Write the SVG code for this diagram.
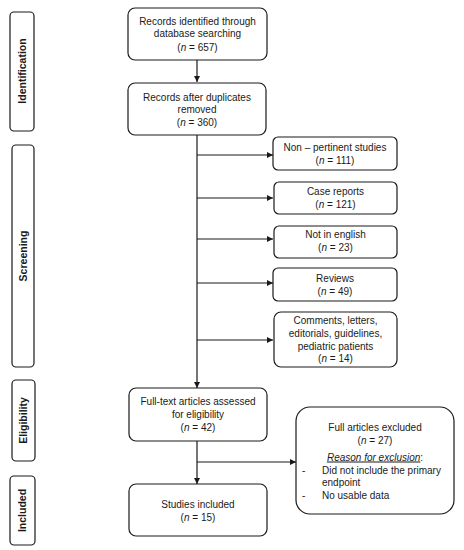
<svg xmlns="http://www.w3.org/2000/svg" width="464" height="550" viewBox="0 0 464 550">
<defs>
<marker id="arr" viewBox="0 0 10 10" refX="10" refY="5" markerWidth="6" markerHeight="6" markerUnits="userSpaceOnUse" orient="auto">
<path d="M0,0 L10,5 L0,10 z" fill="#1a1a1a"/>
</marker>
<style>
.box{fill:#fff;stroke:#1a1a1a;stroke-width:1.2}
.t{font-family:"Liberation Sans",Arial,sans-serif;font-size:10px;fill:#1a1a1a;text-anchor:middle}
.l{text-anchor:start}
.s{font-family:"Liberation Sans",Arial,sans-serif;font-size:10.5px;font-weight:bold;fill:#1a1a1a;text-anchor:middle}
.c{fill:none;stroke:#1a1a1a;stroke-width:1.2}
</style>
</defs>
<rect width="464" height="550" fill="#fff"/>
<g id="stage-identification"><rect class="box" x="10" y="12" width="24" height="119" rx="4"/><text class="s" transform="translate(25.8,71) rotate(-90)">Identification</text></g>
<g id="stage-screening"><rect class="box" x="12" y="145" width="22" height="222" rx="4"/><text class="s" transform="translate(26.8,256) rotate(-90)">Screening</text></g>
<g id="stage-eligibility"><rect class="box" x="12" y="380" width="23" height="81" rx="4"/><text class="s" transform="translate(27.3,420.5) rotate(-90)">Eligibility</text></g>
<g id="stage-included"><rect class="box" x="10" y="476" width="25" height="69" rx="4"/><text class="s" transform="translate(26.3,510.5) rotate(-90)">Included</text></g>

<g id="connectors">
<line class="c" x1="197" y1="60" x2="197" y2="82" marker-end="url(#arr)"/>
<line class="c" x1="197" y1="135" x2="197" y2="388" marker-end="url(#arr)"/>
<line class="c" x1="197" y1="155" x2="273" y2="155" marker-end="url(#arr)"/>
<line class="c" x1="197" y1="198" x2="273" y2="198" marker-end="url(#arr)"/>
<line class="c" x1="197" y1="239" x2="273" y2="239" marker-end="url(#arr)"/>
<line class="c" x1="197" y1="283" x2="273" y2="283" marker-end="url(#arr)"/>
<line class="c" x1="197" y1="340" x2="273" y2="340" marker-end="url(#arr)"/>
<line class="c" x1="197" y1="441" x2="197" y2="484" marker-end="url(#arr)"/>
<line class="c" x1="197" y1="462" x2="296" y2="462" marker-end="url(#arr)"/>
</g>

<g id="records-identified"><rect class="box" x="128" y="8" width="139" height="52" rx="7"/>
<text class="t" x="197.5" y="24.5">Records identified through</text>
<text class="t" x="197.5" y="37">database searching</text>
<text class="t" x="197.5" y="50.5">(<tspan font-style="italic">n</tspan> = 657)</text></g>

<g id="records-after-duplicates"><rect class="box" x="128" y="83" width="138" height="52" rx="7"/>
<text class="t" x="197" y="100.5">Records after duplicates</text>
<text class="t" x="197" y="113">removed</text>
<text class="t" x="197" y="126">(<tspan font-style="italic">n</tspan> = 360)</text></g>

<g id="non-pertinent"><rect class="box" x="273" y="137" width="124" height="33" rx="5"/>
<text class="t" x="335" y="151">Non – pertinent studies</text>
<text class="t" x="335" y="164">(<tspan font-style="italic">n</tspan> = 111)</text></g>

<g id="case-reports"><rect class="box" x="274" y="182" width="123" height="32" rx="5"/>
<text class="t" x="335.5" y="195">Case reports</text>
<text class="t" x="335.5" y="207.5">(<tspan font-style="italic">n</tspan> = 121)</text></g>

<g id="not-in-english"><rect class="box" x="274" y="226" width="123" height="32" rx="5"/>
<text class="t" x="335.5" y="238">Not in english</text>
<text class="t" x="335.5" y="250.5">(<tspan font-style="italic">n</tspan> = 23)</text></g>

<g id="reviews"><rect class="box" x="273" y="268" width="124" height="33" rx="5"/>
<text class="t" x="335" y="282">Reviews</text>
<text class="t" x="335" y="295">(<tspan font-style="italic">n</tspan> = 49)</text></g>

<g id="comments"><rect class="box" x="274" y="312" width="123" height="55" rx="7"/>
<text class="t" x="335.5" y="324">Comments, letters,</text>
<text class="t" x="335.5" y="337">editorials, guidelines,</text>
<text class="t" x="335.5" y="349.5">pediatric patients</text>
<text class="t" x="335.5" y="362">(<tspan font-style="italic">n</tspan> = 14)</text></g>

<g id="full-text-assessed"><rect class="box" x="129" y="388" width="138" height="53" rx="7"/>
<text class="t" x="198" y="405">Full-text articles assessed</text>
<text class="t" x="198" y="418">for eligibility</text>
<text class="t" x="198" y="431">(<tspan font-style="italic">n</tspan> = 42)</text></g>

<g id="studies-included"><rect class="box" x="129" y="484" width="138" height="52" rx="7"/>
<text class="t" x="198" y="508">Studies included</text>
<text class="t" x="198" y="521">(<tspan font-style="italic">n</tspan> = 15)</text></g>

<g id="full-excluded"><rect class="box" x="296" y="407" width="158" height="107" rx="14"/>
<text class="t" x="375" y="430.5">Full articles excluded</text>
<text class="t" x="375" y="443.5">(<tspan font-style="italic">n</tspan> = 27)</text>
<text class="t" x="375" y="460.5"><tspan font-style="italic" text-decoration="underline">Reason for exclusion</tspan>:</text>
<text class="t l" x="302" y="473.5">-</text>
<text class="t l" x="322" y="473.5">Did not include the primary</text>
<text class="t l" x="322" y="486">endpoint</text>
<text class="t l" x="302" y="498.5">-</text>
<text class="t l" x="322" y="498.5">No usable data</text></g>
</svg>
